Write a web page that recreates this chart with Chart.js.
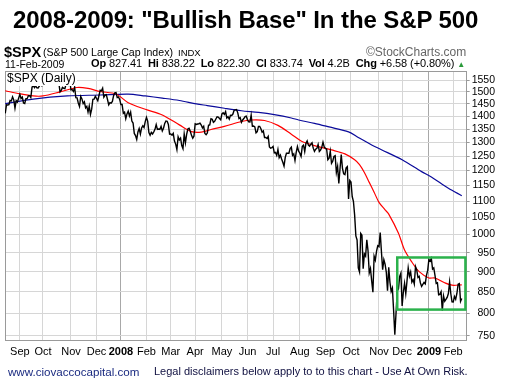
<!DOCTYPE html>
<html><head><meta charset="utf-8">
<script src="https://cdn.jsdelivr.net/npm/chart.js@4/dist/chart.umd.min.js"></script>
<style>
html,body{margin:0;padding:0;background:#fff;}
#wrap{position:relative;width:520px;height:379px;overflow:hidden;font-family:"Liberation Sans",Arial,sans-serif;color:#000;}
#c{position:absolute;left:0;top:0;}
.t{position:absolute;white-space:nowrap;line-height:1;}
</style></head><body>
<div id="wrap">
<canvas id="c" width="520" height="379"></canvas>
<div class="t" id="title" style="left:13px;top:8px;font-size:24px;font-weight:bold;letter-spacing:-0.1px;">2008-2009: "Bullish Base" In the S&amp;P 500</div>
<div class="t" style="left:4px;top:45px;font-size:14.5px;font-weight:bold;">$SPX</div>
<div class="t" style="left:43px;top:47px;font-size:10.6px;">(S&amp;P 500 Large Cap Index)</div>
<div class="t" style="left:178px;top:48px;font-size:9.5px;">INDX</div>
<div class="t" style="left:366px;top:46px;font-size:12px;color:#666;">&copy;StockCharts.com</div>
<div class="t" style="left:5px;top:59px;font-size:10.5px;">11-Feb-2009</div>
<div class="t" style="left:91px;top:58px;font-size:11px;letter-spacing:-0.1px;"><b>Op</b> 827.41 &nbsp;<b>Hi</b> 838.22 &nbsp;<b>Lo</b> 822.30 &nbsp;<b>Cl</b> 833.74 &nbsp;<b>Vol</b> 4.2B &nbsp;<b>Chg</b> +6.58 (+0.80%) <span style="color:#2a9a3a;font-size:8px;">&#9650;</span></div>
<div class="t" style="left:6px;top:72px;font-size:12px;background:#fff;padding:0 1px 2px 1px;">$SPX (Daily)</div>
<div class="t" style="left:8px;top:366px;font-size:11.6px;color:#1a2a80;">www.ciovaccocapital.com</div>
<div class="t" style="left:154px;top:366px;font-size:11px;color:#101040;">Legal disclaimers below apply to to this chart - Use At Own Risk.</div>
</div>
<script>
// ---- data ----
const monthLabels = ['Sep','Oct','Nov','Dec','2008','Feb','Mar','Apr','May','Jun','Jul','Aug','Sep','Oct','Nov','Dec','2009','Feb'];
const monthTickIdx = [12,31,54,75,95,116,136,156,178,199,220,242,263,284,307,326,348,368];
const yTicks = [750,800,850,900,950,1000,1050,1100,1150,1200,1250,1300,1350,1400,1450,1500,1550];
// daily closes, 16-Aug-2007 .. 11-Feb-2009 (trading-day index 0..375)
const closes = [
1411.27,1445.94,1445.55,1447.12,1464.07,1462.50,1479.37,1466.79,1432.36,1463.76,1457.64,1473.99,
1489.42,1472.29,1478.55,1453.55,1451.70,1471.49,1471.56,1483.95,1484.25,1476.65,1519.78,1529.03,1518.75,1525.75,1517.73,1517.21,1525.42,1531.38,1526.75,
1547.04,1546.63,1539.59,1542.84,1557.59,1552.58,1565.15,1562.47,1554.41,1561.80,1548.71,1538.53,1541.24,1540.08,1500.63,1506.33,1519.59,1515.88,1514.40,1535.28,1540.98,1531.02,1549.38,
1508.44,1509.65,1502.17,1520.27,1475.62,1474.77,1453.70,1439.18,1481.05,1470.58,1451.15,1458.74,1433.27,1439.70,1416.77,1440.70,1407.22,1428.23,1469.02,1469.72,1481.14,
1472.42,1462.79,1485.01,1507.34,1504.66,1515.96,1477.65,1486.59,1488.41,1467.95,1445.90,1454.98,1453.00,1460.12,1484.46,1496.45,1497.66,1476.27,1478.49,1468.36,
1447.16,1447.16,1411.63,1416.18,1390.19,1409.13,1420.33,1401.02,1416.25,1380.95,1373.20,1333.25,1325.19,1310.50,1338.60,1352.07,1330.61,1353.96,1362.30,1355.81,1378.55,
1395.42,1380.82,1336.64,1326.45,1336.91,1331.29,1339.13,1348.86,1367.21,1348.86,1349.99,1348.78,1360.03,1342.53,1353.11,1371.80,1381.29,1380.02,1367.68,1330.63,
1331.34,1326.75,1333.70,1304.34,1293.37,1273.37,1320.65,1308.77,1315.48,1288.14,1276.60,1330.74,1298.42,1329.51,1349.88,1352.99,1341.13,1325.76,1315.22,1322.70,
1370.18,1367.53,1369.31,1370.40,1372.54,1365.54,1354.49,1360.55,1332.83,1328.32,1334.43,1364.71,1365.56,1390.33,1388.17,1375.94,1379.93,1388.82,1397.84,1396.37,1390.94,1385.59,
1409.34,1413.90,1407.49,1418.26,1392.57,1397.68,1388.28,1403.58,1403.04,1408.66,1423.57,1425.35,1426.63,1413.40,1390.71,1394.35,1375.93,1385.35,1390.84,1398.26,1400.38,
1385.67,1377.65,1377.20,1404.05,1360.68,1361.76,1358.44,1335.49,1339.87,1360.03,1360.14,1350.93,1337.81,1342.83,1317.93,1318.00,1314.29,1321.97,1283.15,1278.38,1280.00,
1284.91,1261.52,1262.90,1252.31,1273.70,1244.69,1253.39,1239.49,1228.30,1214.91,1245.36,1260.32,1260.68,1260.00,1277.00,1282.19,1252.54,1257.76,1234.37,1263.20,1284.26,1267.38,
1260.31,1249.01,1284.88,1289.19,1266.07,1296.32,1305.32,1289.59,1285.83,1292.93,1298.20,1278.60,1266.69,1274.54,1277.72,1292.20,1266.84,1271.51,1281.66,1300.68,1282.83,
1277.58,1274.98,1236.83,1242.31,1267.79,1224.51,1232.04,1249.05,1251.70,1192.70,1213.60,1156.39,1206.51,1255.08,1207.09,1188.22,1185.87,1209.18,1213.27,1106.39,1166.36,
1161.06,1114.28,1099.23,1056.89,996.23,984.94,909.92,899.22,1003.35,998.01,907.84,946.43,940.55,985.40,955.05,896.78,908.11,876.77,848.92,940.51,930.09,954.09,968.75,
966.30,1005.75,952.77,904.88,930.99,919.21,898.95,852.30,911.29,873.29,850.75,859.12,806.58,752.44,800.03,851.81,857.39,887.68,896.24,
816.21,848.81,870.74,845.22,876.07,909.70,888.67,899.24,873.59,879.73,868.57,913.18,904.42,885.28,887.88,871.63,863.16,868.15,872.80,869.42,890.64,903.25,
931.80,927.45,934.70,906.65,909.73,890.35,870.26,871.79,842.62,843.74,850.12,805.22,840.24,827.50,831.95,836.57,845.71,874.09,845.14,825.88,
825.44,838.51,832.23,845.85,868.60,869.89,827.16,833.74
];
// 50-day moving average (red)
const ma50Idx = [0,12,23,31,45,59,68,78,91,101,115,129,143,153,161,169,180,194,202,213,224,235,243,254,268,279,287,291,295,299,303,307,312,315,323,328,334,340,348,353,361,367,375];
const ma50Val = [1505,1492,1483,1483,1500,1519,1515,1502,1491,1455,1428,1405,1366,1340,1338,1348,1360,1379,1385,1383,1364,1330,1305,1288,1272,1258,1237,1220,1193,1160,1128,1096,1073,1060,1004,957,925,900,884,884,872,866,867];
// 200-day moving average (blue)
const ma200Idx = [0,23,51,78,101,115,129,143,157,166,180,194,208,221,235,241,254,266,282,290,301,309,326,342,350,364,375];
const ma200Val = [1451,1470,1483,1487,1491,1483,1474,1464,1450,1443,1432,1422,1415,1406,1393,1385,1372,1358,1339,1318,1290,1273,1237,1196,1178,1141,1117];
// highlighted base (green box)
const baseBox = {fromIdx: 322, toIdx: 378, low: 808, high: 937};

const pricePts = closes.map((v,i)=>({x:i,y:v}));
const ma50Pts = ma50Idx.map((x,i)=>({x:x,y:ma50Val[i]}));
const ma200Pts = ma200Idx.map((x,i)=>({x:x,y:ma200Val[i]}));

const frame = {
  id:'frame',
  beforeDatasetsDraw(chart){
    const {ctx, chartArea:a} = chart;
    ctx.save(); ctx.strokeStyle='#9a9a9a'; ctx.lineWidth=1;
    ctx.strokeRect(Math.round(a.left)+0.5, Math.round(a.top)+0.5, Math.round(a.right-a.left)-1, Math.round(a.bottom-a.top)-1);
    ctx.restore();
  },
  afterDatasetsDraw(chart){
    const {ctx, scales:{x,y}} = chart;
    const x0=x.getPixelForValue(baseBox.fromIdx), x1=x.getPixelForValue(baseBox.toIdx);
    const y0=y.getPixelForValue(baseBox.high), y1=y.getPixelForValue(baseBox.low);
    ctx.save(); ctx.strokeStyle='#2bb24c'; ctx.lineWidth=2.5;
    ctx.strokeRect(x0,y0,x1-x0,y1-y0); ctx.restore();
  }
};

const isYear = l => l==='2008'||l==='2009';
new Chart(document.getElementById('c'), {
  type:'line',
  data:{datasets:[
    {label:'$SPX', data:pricePts, borderColor:'#000', borderWidth:1.4, pointRadius:0, tension:0},
    {label:'MA(50)', data:ma50Pts, borderColor:'#ff0000', borderWidth:1.2, pointRadius:0, tension:0.3},
    {label:'MA(200)', data:ma200Pts, borderColor:'#0a0a9a', borderWidth:1.2, pointRadius:0, tension:0.3}
  ]},
  options:{
    responsive:false, animation:false, events:[],
    layout:{padding:{left:5, top:71, right:25, bottom:16.8}},
    plugins:{legend:{display:false}, tooltip:{enabled:false}},
    scales:{
      x:{type:'linear', min:-0.2, max:379,
        afterBuildTicks(s){ s.ticks = monthTickIdx.map(v=>({value:v})); },
        ticks:{autoSkip:false, maxRotation:0, padding:4, color:'#000',
          callback:(v,i)=>monthLabels[i],
          font:(c)=>({family:'"Liberation Sans", Arial, sans-serif', size:11, weight: (c.tick && isYear(monthLabels[c.index]))?'bold':'normal'})},
        grid:{drawTicks:false, color:(c)=> (c.tick && isYear(monthLabels[c.index]))?'#a8a8a8':'#d6d6d6'},
        border:{display:false}
      },
      y:{type:'logarithmic', position:'right', min:739, max:1592,
        afterBuildTicks(s){ s.ticks = yTicks.map(v=>({value:v})); },
        ticks:{autoSkip:false, padding:1, crossAlign:'far', color:'#000', callback:(v)=>String(v),
          font:{family:'"Liberation Sans", Arial, sans-serif', size:10.5}},
        grid:{color:'#d6d6d6', tickLength:3, tickColor:'#9a9a9a'},
        border:{display:false}
      }
    }
  },
  plugins:[frame]
});
</script>
</body></html>
